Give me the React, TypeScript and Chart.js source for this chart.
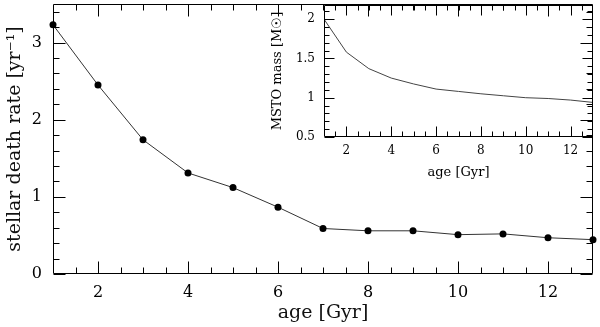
import React, { useEffect, useRef } from "react";
import { Chart, registerables } from "chart.js";

Chart.register(...registerables);

// ---- main panel data ----
const ages: number[] = [1, 2, 3, 4, 5, 6, 7, 8, 9, 10, 11, 12, 13];
const deathRate: number[] = [3.23, 2.45, 1.74, 1.31, 1.12, 0.866, 0.59, 0.56, 0.56, 0.51, 0.52, 0.47, 0.445];
const mainXMajor: number[] = [2, 4, 6, 8, 10, 12];
const mainXMinor: number[] = [1.5, 2.5, 3, 3.5, 4.5, 5, 5.5, 6.5, 7, 7.5, 8.5, 9, 9.5, 10.5, 11, 11.5, 12.5];
const mainYMajor: number[] = [0, 1, 2, 3];
const mainYMinor: number[] = [0.2, 0.4, 0.6, 0.8, 1.2, 1.4, 1.6, 1.8, 2.2, 2.4, 2.6, 2.8, 3.2, 3.4];

// ---- inset data ----
const msto: number[] = [2.0, 1.58, 1.37, 1.25, 1.175, 1.11, 1.08, 1.05, 1.025, 1.0, 0.99, 0.97, 0.94];
const insetXMajor: number[] = [2, 4, 6, 8, 10, 12];
const insetXMinor: number[] = [1.5, 2.5, 3, 3.5, 4.5, 5, 5.5, 6.5, 7, 7.5, 8.5, 9, 9.5, 10.5, 11, 11.5, 12.5];
const insetYMajor: number[] = [0.5, 1, 1.5, 2];
const insetYMinor: number[] = [0.6, 0.7, 0.8, 0.9, 1.1, 1.2, 1.3, 1.4, 1.6, 1.7, 1.8, 1.9, 2.1];

const FONT = "'DejaVu Serif', serif";

function zeroPad(s: any) {
  s.paddingTop = 0;
  s.paddingBottom = 0;
  s.paddingLeft = 0;
  s.paddingRight = 0;
}

function framePlugin(
  xMajor: number[], xMinor: number[], yMajor: number[], yMinor: number[],
  majLen: number, minLen: number, sides: { top: boolean; right: boolean }
) {
  return {
    id: "frameTicks",
    afterDatasetsDraw(chart: any) {
      const { ctx, chartArea } = chart;
      const xs = chart.scales.x;
      const ys = chart.scales.y;
      const l = Math.round(chartArea.left) + 0.5;
      const r = Math.round(chartArea.right) - 0.5;
      const t = Math.round(chartArea.top) + 0.5;
      const b = Math.round(chartArea.bottom) - 0.5;
      ctx.save();
      ctx.strokeStyle = "#000";
      ctx.lineWidth = 1;
      ctx.beginPath();
      ctx.moveTo(l, t); ctx.lineTo(l, b); ctx.lineTo(r, b);
      if (sides.right) ctx.lineTo(r, t);
      if (sides.top) ctx.lineTo(l, t);
      ctx.stroke();
      ctx.beginPath();
      const xt = (vals: number[], len: number) => {
        vals.forEach((v) => {
          const px = Math.round(xs.getPixelForValue(v)) + 0.5;
          ctx.moveTo(px, b); ctx.lineTo(px, b - len);
          if (sides.top) { ctx.moveTo(px, t); ctx.lineTo(px, t + len); }
        });
      };
      const yt = (vals: number[], len: number) => {
        vals.forEach((v) => {
          const py = Math.round(ys.getPixelForValue(v)) + 0.5;
          ctx.moveTo(l, py); ctx.lineTo(l + len, py);
          if (sides.right) { ctx.moveTo(r, py); ctx.lineTo(r - len, py); }
        });
      };
      xt(xMajor, majLen); xt(xMinor, minLen);
      yt(yMajor, majLen); yt(yMinor, minLen);
      ctx.stroke();
      ctx.restore();
    },
  };
}

const fmt = (v: any) => String(v);

export default function App() {
  const mainRef = useRef<HTMLCanvasElement>(null);
  const insetRef = useRef<HTMLCanvasElement>(null);

  useEffect(() => {
    const main = new Chart(mainRef.current!, {
      type: "line",
      data: {
        datasets: [
          {
            data: ages.map((a, i) => ({ x: a, y: deathRate[i] })),
            borderColor: "#333",
            borderWidth: 1,
            pointRadius: 3.5,
            pointBackgroundColor: "#000",
            pointBorderColor: "#000",
            pointBorderWidth: 0,
            tension: 0,
            clip: false as any,
          },
        ],
      },
      options: {
        animation: false,
        responsive: false,
        devicePixelRatio: 1,
        layout: { padding: { top: 4, right: 7, left: 0, bottom: 0 } },
        plugins: { legend: { display: false }, tooltip: { enabled: false } },
        scales: {
          x: {
            type: "linear",
            min: 1,
            max: 13,
            afterBuildTicks: (s: any) => { s.ticks = mainXMajor.map((v) => ({ value: v })); },
            afterFit: (s: any) => { s.height = 53; zeroPad(s); },
            grid: { display: false, drawTicks: false },
            border: { display: false },
            ticks: { font: { family: FONT, size: 16 }, color: "#000", padding: 9, maxRotation: 0, autoSkip: false, callback: fmt },
            title: { display: true, text: "age [Gyr]", font: { family: FONT, size: 19 }, color: "#111", padding: { top: 0, bottom: 3 } },
          },
          y: {
            type: "linear",
            min: 0,
            max: 3.5,
            afterBuildTicks: (s: any) => { s.ticks = mainYMajor.map((v) => ({ value: v })); },
            afterFit: (s: any) => { s.width = 53; zeroPad(s); },
            grid: { display: false, drawTicks: false },
            border: { display: false },
            ticks: { font: { family: FONT, size: 16 }, color: "#000", padding: 11, autoSkip: false, callback: fmt },
            title: { display: true, text: "stellar death rate [yr\u207B\u00B9]", font: { family: FONT, size: 19 }, color: "#111", padding: { top: 4, bottom: 0 } },
          },
        },
      },
      plugins: [framePlugin(mainXMajor, mainXMinor, mainYMajor, mainYMinor, 12, 6, { top: true, right: true })],
    });

    const inset = new Chart(insetRef.current!, {
      type: "line",
      data: {
        datasets: [
          {
            data: ages.map((a, i) => ({ x: a, y: msto[i] })),
            borderColor: "#444",
            borderWidth: 1,
            pointRadius: 0,
            tension: 0,
          },
        ],
      },
      options: {
        animation: false,
        responsive: false,
        devicePixelRatio: 1,
        layout: { padding: { top: 5, right: 7, left: 0, bottom: 0 } },
        plugins: { legend: { display: false }, tooltip: { enabled: false } },
        scales: {
          x: {
            type: "linear",
            min: 1,
            max: 13,
            afterBuildTicks: (s: any) => { s.ticks = insetXMajor.map((v) => ({ value: v })); },
            afterFit: (s: any) => { s.height = 48; zeroPad(s); },
            grid: { display: false, drawTicks: false },
            border: { display: false },
            ticks: { font: { family: FONT, size: 12 }, color: "#000", padding: 7, maxRotation: 0, autoSkip: false, callback: fmt },
            title: { display: true, text: "age [Gyr]", font: { family: FONT, size: 13 }, color: "#000", padding: { top: 0, bottom: 5 } },
          },
          y: {
            type: "linear",
            min: 0.5,
            max: 2.18,
            afterBuildTicks: (s: any) => { s.ticks = insetYMajor.map((v) => ({ value: v })); },
            afterFit: (s: any) => { s.width = 62; zeroPad(s); },
            grid: { display: false, drawTicks: false },
            border: { display: false },
            ticks: { font: { family: FONT, size: 12 }, color: "#000", padding: 9, autoSkip: false, callback: fmt },
            title: { display: true, text: "MSTO mass [M\u2609]", font: { family: FONT, size: 13 }, color: "#000", padding: { top: 8, bottom: 0 } },
          },
        },
      },
      plugins: [framePlugin(insetXMajor, insetXMinor, insetYMajor, insetYMinor, 10, 5, { top: true, right: true })],
    });

    return () => {
      main.destroy();
      inset.destroy();
    };
  }, []);

  return (
    <div style={{ position: "fixed", left: 0, top: 0, width: 600, height: 327, background: "#fff" }}>
      <canvas ref={mainRef} width={600} height={327} style={{ position: "absolute", left: 0, top: 0, width: 600, height: 327 }} />
      <canvas ref={insetRef} width={338} height={185} style={{ position: "absolute", left: 262, top: 0, width: 338, height: 185 }} />
    </div>
  );
}
